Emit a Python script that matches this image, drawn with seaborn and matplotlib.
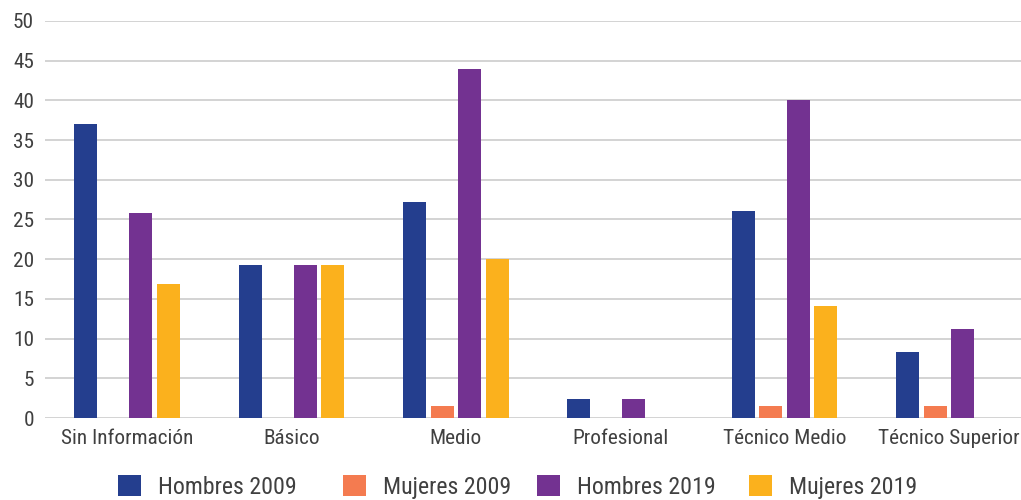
import matplotlib
matplotlib.use("Agg")
import matplotlib.pyplot as plt
from matplotlib import font_manager
import seaborn as sns
import pandas as pd

categories = ["Sin Información", "Básico", "Medio", "Profesional",
              "Técnico Medio", "Técnico Superior"]
series = ["Hombres 2009", "Mujeres 2009", "Hombres 2019", "Mujeres 2019"]
hombres_2009 = [37.0, 19.3, 27.2, 2.4, 26.1, 8.3]
mujeres_2009 = [0.0, 0.0, 1.5, 0.0, 1.5, 1.5]
hombres_2019 = [25.8, 19.3, 44.0, 2.4, 40.0, 11.2]
mujeres_2019 = [16.9, 19.3, 20.0, 0.0, 14.1, 0.0]
y_ticks = [0, 5, 10, 15, 20, 25, 30, 35, 40, 45, 50]

colors = ["#243E8E", "#F47B50", "#733291", "#FBB11D"]

rows = []
for name, vals in zip(series, [hombres_2009, mujeres_2009, hombres_2019, mujeres_2019]):
    for cat, v in zip(categories, vals):
        rows.append({"Nivel": cat, "Serie": name, "Valor": v})
df = pd.DataFrame(rows)

sns.set_theme(style="white")


def pick_font(candidates):
    for fam in candidates:
        try:
            font_manager.findfont(font_manager.FontProperties(family=fam),
                                  fallback_to_default=False)
            return fam
        except Exception:
            continue
    return "DejaVu Sans"


font = pick_font(["Roboto Condensed", "Liberation Sans Narrow", "Roboto"])
plt.rcParams["font.family"] = [font, "DejaVu Sans"]
text_color = "#404040"

fig = plt.figure(figsize=(10.21, 5.0), dpi=100)
ax = fig.add_axes([45 / 1021, 82 / 500, 986 / 1021, 397 / 500])

sns.barplot(data=df, x="Nivel", y="Valor", hue="Serie", order=categories,
            hue_order=series, palette=colors, width=0.67, gap=0.16,
            saturation=1, linewidth=0, edgecolor="none", ax=ax, legend=True)

ax.set_xlim(-0.5, len(categories) - 0.5)
ax.set_ylim(0, 50)
ax.set_yticks(y_ticks)
ax.set_xlabel("")
ax.set_ylabel("")
ax.yaxis.grid(True, color="#d3d3d3", linewidth=1.4)
ax.set_axisbelow(True)
for s in ax.spines.values():
    s.set_visible(False)
ax.tick_params(axis="both", length=0, colors=text_color, labelsize=15.3)
ax.tick_params(axis="y", pad=8)
ax.tick_params(axis="x", pad=8)

# legend entries laid out one by one along the bottom edge
handles, labels = ax.get_legend_handles_labels()
ax.get_legend().remove()
entry_left = [118, 343, 537, 749]
for h, lab, xl in zip(handles, labels, entry_left):
    fig.legend([h], [lab], loc="center left",
               bbox_to_anchor=(xl / 1021, 13 / 500), frameon=False,
               fontsize=17.2, handlelength=0.96, handleheight=0.96,
               handletextpad=0.72, borderpad=0, borderaxespad=0,
               labelcolor=text_color)

fig.savefig("out.png", dpi=100)
